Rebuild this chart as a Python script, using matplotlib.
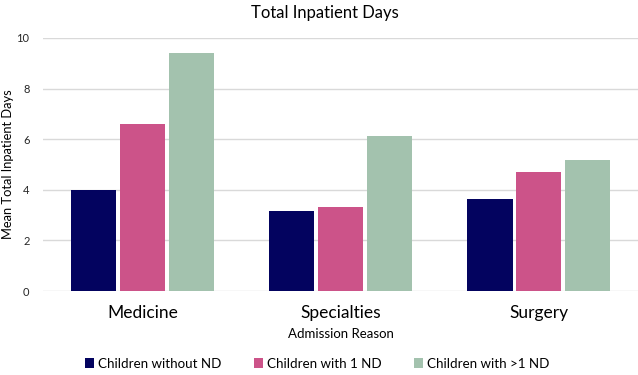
import matplotlib
matplotlib.use("Agg")
import matplotlib.pyplot as plt
import numpy as np

plt.rcParams['font.family'] = ['Lato', 'DejaVu Sans']

categories = ["Medicine", "Specialties", "Surgery"]
series_names = ["Children without ND", "Children with 1 ND", "Children with >1 ND"]
without_nd = [4.0, 3.16, 3.64]
with_1_nd = [6.6, 3.32, 4.70]
with_gt1_nd = [9.41, 6.13, 5.18]
colors = ["#03035f", "#cc5389", "#a3c2ae"]

fig = plt.figure(figsize=(6.38, 3.75), dpi=100)
ax = fig.add_axes([0.068, 0.224, 0.932, 0.675])

x = np.arange(len(categories))
w = 0.228
step = 0.247
for i, (vals, name) in enumerate(zip([without_nd, with_1_nd, with_gt1_nd], series_names)):
    ax.bar(x + (i - 1) * step, vals, width=w, color=colors[i], label=name, zorder=3)

ax.set_xlim(-0.5, 2.5)
ax.set_ylim(0, 10)
ax.set_yticks([0, 2, 4, 6, 8, 10])
ax.yaxis.grid(True, color="#d9d9d9", linewidth=1, zorder=0)
ax.set_axisbelow(True)
for s in ax.spines.values():
    s.set_visible(False)
ax.tick_params(axis="y", length=0, labelsize=8, colors="#262626", pad=10)
ax.tick_params(axis="x", length=0, labelsize=12.5, colors="#000000", pad=10)
ax.set_xticks(x)
ax.set_xticklabels(categories)
ax.set_xlabel("Admission Reason", fontsize=9.5, labelpad=5)
ax.set_ylabel("Mean Total Inpatient Days", fontsize=9.3, labelpad=10)
ax.yaxis.set_label_coords(-0.05, 0.5)
fig.text(0.509, 0.965, "Total Inpatient Days", ha="center", va="center", fontsize=12)

fig.legend(loc="center", bbox_to_anchor=(0.497, 0.03), ncol=3, frameon=False,
           fontsize=9.6, handlelength=0.7, handleheight=0.7, handletextpad=0.3,
           columnspacing=2.4)

fig.savefig("out.png", dpi=100)
